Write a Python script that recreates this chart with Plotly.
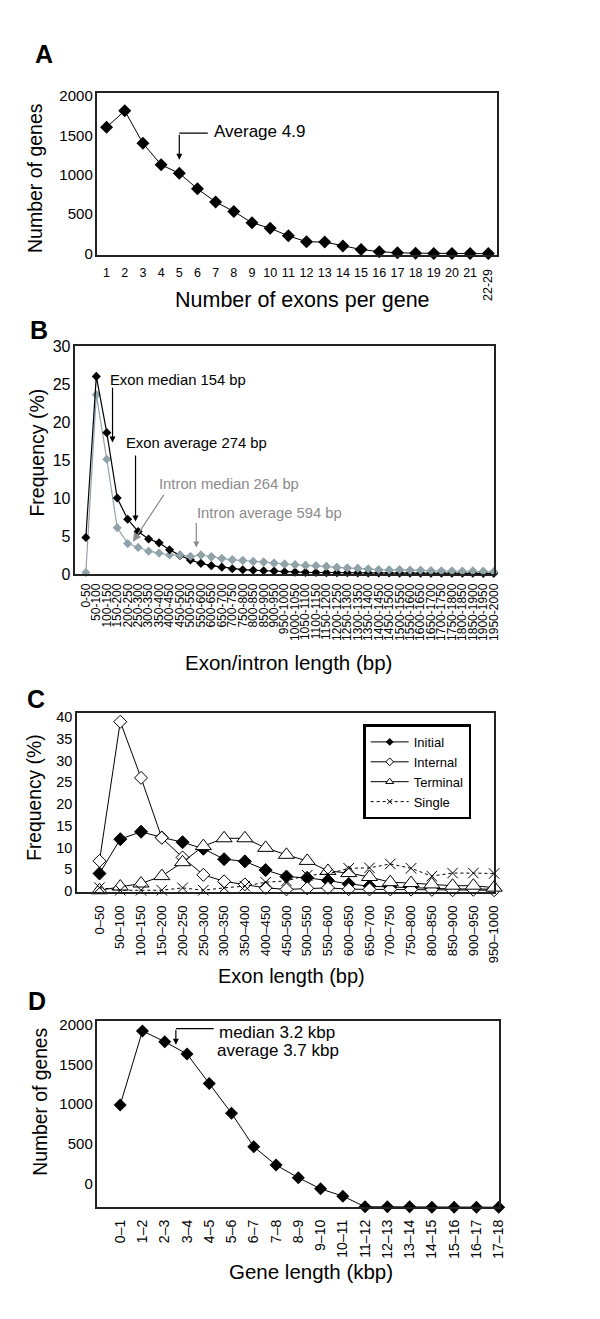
import plotly.graph_objects as go

W, H = 600, 1319
FONT = "Liberation Sans, Arial, sans-serif"
GRAY = '#8fa3a8'
TXTGRAY = '#8a8a8a'

# ---- panel A : exons per gene
exon_counts = ['1', '2', '3', '4', '5', '6', '7', '8', '9', '10', '11', '12', '13', '14',
               '15', '16', '17', '18', '19', '20', '21', '22-29']
genes_per_count = [1603, 1812, 1399, 1127, 1019, 822, 655, 534, 392, 321, 225, 150, 147,
                   95, 52, 25, 10, 6, 0, 2, 0, 0]

# ---- panel B : exon / intron length distribution (%)
length_bins = ['0-50', '50-100', '100-150', '150-200', '200-250', '250-300', '300-350',
               '350-400', '400-450', '450-500', '500-550', '550-600', '600-650', '650-700',
               '700-750', '750-800', '800-850', '850-900', '900-950', '950-1000',
               '1000-1050', '1050-1100', '1100-1150', '1150-1200', '1200-1250',
               '1250-1300', '1300-1350', '1350-1400', '1400-1450', '1450-1500',
               '1500-1550', '1550-1600', '1600-1650', '1650-1700', '1700-1750',
               '1750-1800', '1800-1850', '1850-1900', '1900-1950', '1950-2000']
exon_freq = [4.8, 26.0, 18.6, 10.0, 7.2, 5.6, 4.6, 4.1, 3.2, 2.45, 1.85, 1.4, 1.1, 0.9,
             0.7, 0.57, 0.5, 0.43, 0.38, 0.3, 0.25, 0.22, 0.2, 0.18, 0.17, 0.16, 0.15,
             0.14, 0.13, 0.13, 0.12, 0.12, 0.11, 0.11, 0.1, 0.1, 0.1, 0.1, 0.09, 0.09]
intron_freq = [0.2, 23.6, 15.1, 6.1, 4.0, 3.5, 3.0, 2.75, 2.5, 2.5, 2.3, 2.5, 2.26, 2.04,
               1.87, 1.78, 1.65, 1.57, 1.43, 1.3, 1.22, 1.13, 1.09, 1.0, 0.87, 0.78, 0.74,
               0.65, 0.57, 0.52, 0.57, 0.48, 0.48, 0.43, 0.4, 0.38, 0.36, 0.4, 0.35, 0.3]

# ---- panel C : exon length by exon type (%)
exon_bins = ['0–50', '50–100', '100–150', '150–200', '200–250', '250–300', '300–350',
             '350–400', '400–450', '450–500', '500–550', '550–600', '600–650', '650–700',
             '700–750', '750–800', '800–850', '850–900', '900–950', '950–1000']
initial = [4.0, 11.9, 13.6, 12.3, 11.2, 9.7, 7.3, 6.8, 4.8, 3.3, 3.0, 2.4, 1.6, 1.1, 0.9,
           0.7, 0.6, 0.45, 0.45, 0.4]
internal = [6.9, 38.9, 26.0, 12.2, 7.7, 3.7, 2.2, 1.5, 0.7, 0.35, 0.6, 0.7, 0.4, 0.35,
            0.35, 0.3, 0.25, 0.15, 0.25, 0.15]
terminal = [0.15, 1.0, 1.7, 3.4, 6.6, 10.3, 12.1, 12.1, 9.9, 8.3, 6.9, 4.6, 4.1, 3.2, 2.0,
            1.8, 1.5, 1.2, 1.2, 0.75]
single = [0.75, 0.15, 0.15, 0.15, 0.7, 0.15, 0.7, 1.1, 2.0, 2.3, 3.6, 3.9, 5.2, 5.3, 6.2,
          5.2, 3.4, 4.1, 4.1, 4.0]

# ---- panel D : gene length (values read on the printed axis labels)
gene_bins = ['0–1', '1–2', '2–3', '3–4', '4–5', '5–6', '6–7', '7–8', '8–9', '9–10',
             '10–11', '11–12', '12–13', '13–14', '14–15', '15–16', '16–17', '17–18']
genes_by_length = [990, 1920, 1784, 1630, 1258, 885, 464, 234, 76, -64, -156, -290, -290,
                   -290, -297, -295, -295, -295]


def px(x):
    return x / W


def py(y):
    return 1 - y / H


fig = go.Figure()

line = dict(color='black', width=1)
fig.add_trace(go.Scatter(x=exon_counts, y=genes_per_count, mode='lines+markers', xaxis='x', yaxis='y',
                         line=line, marker=dict(symbol='diamond', size=10, color='black'),
                         cliponaxis=False, showlegend=False))

fig.add_trace(go.Scatter(x=length_bins, y=intron_freq, mode='lines+markers', xaxis='x2', yaxis='y2',
                         line=dict(color=GRAY, width=1.2),
                         marker=dict(symbol='diamond', size=7, color=GRAY),
                         cliponaxis=False, showlegend=False))
fig.add_trace(go.Scatter(x=length_bins, y=exon_freq, mode='lines+markers', xaxis='x2', yaxis='y2',
                         line=dict(color='black', width=1.2),
                         marker=dict(symbol='diamond', size=7, color='black'),
                         cliponaxis=False, showlegend=False))
# intron tail sits over the exon tail in the original
fig.add_trace(go.Scatter(x=length_bins[9:], y=intron_freq[9:], mode='markers', xaxis='x2', yaxis='y2',
                         marker=dict(symbol='diamond', size=7, color=GRAY),
                         cliponaxis=False, showlegend=False))

# panel C series: (name, values, marker, dash, legend marker)
c_styles = [
    ('Initial', initial, dict(symbol='diamond', size=10, color='black', line=dict(color='black', width=1)),
     'solid', dict(symbol='diamond', size=6, color='black')),
    ('Internal', internal, dict(symbol='diamond', size=10, color='white', line=dict(color='black', width=1)),
     'solid', dict(symbol='diamond', size=6, color='white', line=dict(color='black', width=1))),
    ('Terminal', terminal, dict(symbol='triangle-up', size=14, color='white', line=dict(color='black', width=1)),
     'solid', dict(symbol='triangle-up', size=7, color='white', line=dict(color='black', width=1))),
    ('Single', single, dict(symbol='x-thin', size=10.5, color='black', line=dict(color='black', width=1)),
     'dot', dict(symbol='x-thin', size=5, color='black', line=dict(color='black', width=1))),
]
for name, vals, mk, dash, legmk in c_styles:
    fig.add_trace(go.Scatter(x=exon_bins, y=vals, mode='lines+markers', xaxis='x3', yaxis='y3',
                             line=dict(color='black', width=1, dash=dash), marker=mk,
                             cliponaxis=False, showlegend=False))
for name, vals, mk, dash, legmk in c_styles:
    fig.add_trace(go.Scatter(x=[None], y=[None], mode='lines+markers', xaxis='x3', yaxis='y3', name=name,
                             line=dict(color='black', width=1, dash=dash), marker=legmk))

fig.add_trace(go.Scatter(x=gene_bins, y=genes_by_length, mode='lines+markers', xaxis='x4', yaxis='y4',
                         line=line, marker=dict(symbol='diamond', size=10, color='black'),
                         cliponaxis=False, showlegend=False))

axis_common = dict(showline=True, mirror=True, linecolor='#222', linewidth=1.5, showgrid=False,
                   zeroline=False, ticks='', color='black', fixedrange=True)

fig.update_layout(
    width=W, height=H, margin=dict(l=0, r=0, t=0, b=0),
    paper_bgcolor='white', plot_bgcolor='white',
    font=dict(family=FONT, color='black'),
    xaxis=dict(axis_common, domain=[px(90.7), px(496)], anchor='y', type='category',
               range=[-0.5, 21.5], tickmode='array', tickvals=exon_counts,
               ticktext=exon_counts[:-1] + [''], tickangle=0, tickfont=dict(size=12.5),
               ticklabelstandoff=5),
    yaxis=dict(axis_common, domain=[py(242.3), py(77.7)], anchor='x', range=[-20, 2041],
               tickvals=[0, 500, 1000, 1500, 2000], tickfont=dict(size=15)),
    xaxis2=dict(axis_common, domain=[px(68.3), px(492.3)], anchor='y2', type='category',
                range=[-1, 39], tickmode='array', tickvals=length_bins, ticktext=length_bins,
                tickangle=-90, tickfont=dict(size=12), ticklabelstandoff=3),
    yaxis2=dict(axis_common, domain=[py(565.3), py(334.3)], anchor='x2', range=[0, 30],
                dtick=5, tickfont=dict(size=16)),
    xaxis3=dict(axis_common, domain=[px(70), px(492.7)], anchor='y3', type='category',
                range=[-1.08, 19], tickmode='array', tickvals=exon_bins, ticktext=exon_bins,
                tickangle=-90, tickfont=dict(size=13), ticklabelstandoff=7),
    yaxis3=dict(axis_common, domain=[py(887), py(705.7)], anchor='x3', range=[-0.15, 41],
                dtick=5, tickfont=dict(size=14.5)),
    xaxis4=dict(axis_common, domain=[px(90.7), px(497.3)], anchor='y4', type='category',
                range=[-1.02, 17], tickmode='array', tickvals=gene_bins, ticktext=gene_bins,
                tickangle=-90, tickfont=dict(size=14), ticklabelstandoff=5),
    yaxis4=dict(axis_common, domain=[py(1207), py(1018.3)], anchor='x4', range=[-298, 2042],
                tickvals=[0, 500, 1000, 1500, 2000], tickfont=dict(size=15)),
    legend=dict(x=px(360), y=py(717.7), xanchor='left', yanchor='top',
                bgcolor='white', bordercolor='black', borderwidth=2.5,
                font=dict(size=13, family=FONT), itemwidth=38, tracegroupgap=0),
)

ann = []


def text(x, y, s, size, color='black', angle=0, bold=False, anchor='center', height=None):
    a = dict(x=px(x), y=py(y), xref='paper', yref='paper', text=('<b>%s</b>' % s) if bold else s,
             showarrow=False, textangle=angle, xanchor=anchor, yanchor='middle',
             font=dict(size=size, color=color, family=FONT))
    if height:
        a['height'] = height
    ann.append(a)


def arrow(xr, yr, x0, y0, x1, y1, color='black', head=2, size=1.0, width=1.2):
    ann.append(dict(x=x1, y=y1, ax=x0, ay=y0, xref=xr, yref=yr, axref=xr, ayref=yr, text='',
                    showarrow=True, arrowhead=head, arrowsize=size, arrowwidth=width,
                    arrowcolor=color, standoff=0, startstandoff=0))


# panel letters
text(36.7, 38.3, 'A', 25, bold=True)
text(31.7, 318.3, 'B', 25, bold=True)
text(28.3, 691.7, 'C', 25, bold=True)
text(29.3, 997.7, 'D', 25, bold=True)

# axis titles
text(298.5, 288, 'Number of exons per gene', 21.5)
text(27.3, 164.2, 'Number of genes', 19.5, angle=-90)
text(284.3, 655, 'Exon/intron length (bp)', 20.5)
text(29, 442.7, 'Frequency (%)', 19.5, angle=-90)
text(287.7, 973, 'Exon length (bp)', 20)
text(26.7, 791.7, 'Frequency (%)', 19.3, angle=-90)
text(307.2, 1271.7, 'Gene length (kbp)', 20.5)
text(33.3, 1100, 'Number of genes', 19.3, angle=-90)

# rotated last category label of panel A
text(487, 273, '22-29', 12.5, angle=-90)

# panel A note
arrow('x', 'y', 4, 1527, 4, 1189)
fig.add_shape(type='line', xref='x', yref='y', x0=4, x1=5.57, y0=1527, y1=1527,
              line=dict(color='black', width=1.2))
text(206.7, 116.7, 'Average 4.9', 17, anchor='left')

# panel B notes
arrow('x2', 'y2', 2.55, 24.7, 2.55, 17.3)
text(101, 369, 'Exon median 154 bp', 14.8, anchor='left')
arrow('x2', 'y2', 4.75, 15.8, 4.75, 6.9)
text(117.7, 432.3, 'Exon average 274 bp', 14.8, anchor='left')
arrow('x2', 'y2', 7.55, 10.6, 4.5, 4.26, color=TXTGRAY, head=2, size=1.4)
text(151, 474.3, 'Intron median 264 bp', 14.8, color=TXTGRAY, anchor='left')
arrow('x2', 'y2', 10.56, 6.9, 10.56, 3.5, color=TXTGRAY)
text(190, 503.3, 'Intron average 594 bp', 14.8, color=TXTGRAY, anchor='left')

# panel D note
arrow('x4', 'y4', 2.5, 1949, 2.5, 1746)
fig.add_shape(type='line', xref='x4', yref='y4', x0=2.5, x1=4.2, y0=1949, y1=1949,
              line=dict(color='black', width=1.2))
text(211.7, 1029.3, 'median 3.2 kbp', 17, anchor='left', height=17)
text(210, 1047.6, 'average 3.7 kbp', 17, anchor='left', height=17)

fig.update_layout(annotations=ann)

fig.write_html("out.html")
